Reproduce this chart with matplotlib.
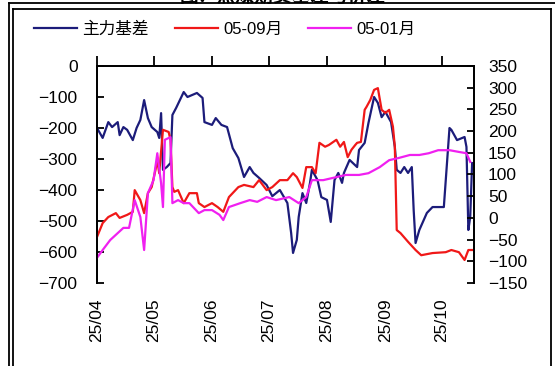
import matplotlib
matplotlib.use("Agg")
import matplotlib.pyplot as plt
import matplotlib.dates as mdates
from matplotlib.lines import Line2D
import pandas as pd

plt.rcParams['font.family'] = ['Liberation Sans', 'Noto Sans CJK SC', 'DejaVu Sans']
plt.rcParams['axes.unicode_minus'] = True

# 主力基差 (left axis)
basis_dates = [
    "2025-04-01", "2025-04-04", "2025-04-07", "2025-04-09", "2025-04-12", "2025-04-13",
    "2025-04-15", "2025-04-17", "2025-04-20", "2025-04-22", "2025-04-24", "2025-04-26",
    "2025-04-28", "2025-04-30", "2025-05-03", "2025-05-04", "2025-05-05", "2025-05-06",
    "2025-05-08", "2025-05-10", "2025-05-11", "2025-05-13", "2025-05-17", "2025-05-19",
    "2025-05-24", "2025-05-27", "2025-05-28", "2025-06-01", "2025-06-03", "2025-06-06",
    "2025-06-09", "2025-06-12", "2025-06-15", "2025-06-18", "2025-06-21", "2025-06-23",
    "2025-06-26", "2025-06-30", "2025-07-03", "2025-07-07", "2025-07-11", "2025-07-13",
    "2025-07-14", "2025-07-16", "2025-07-17", "2025-07-19", "2025-07-21", "2025-07-23",
    "2025-07-24", "2025-07-27", "2025-07-29", "2025-08-01", "2025-08-03", "2025-08-05",
    "2025-08-07", "2025-08-09", "2025-08-10", "2025-08-13", "2025-08-17", "2025-08-18",
    "2025-08-21", "2025-08-23", "2025-08-26", "2025-08-28", "2025-08-30", "2025-09-01",
    "2025-09-04", "2025-09-06", "2025-09-07", "2025-09-09", "2025-09-11", "2025-09-13",
    "2025-09-15", "2025-09-16", "2025-09-17", "2025-09-19", "2025-09-23", "2025-09-26",
    "2025-10-02", "2025-10-05", "2025-10-06", "2025-10-09", "2025-10-13", "2025-10-14",
    "2025-10-15", "2025-10-16", "2025-10-17",
]
basis_vals = [
    -200, -232, -181, -197, -181, -223,
    -197, -206, -239, -200, -174, -110,
    -168, -197, -213, -232, -152, -335,
    -326, -313, -158, -135, -84, -100,
    -87, -103, -181, -190, -168, -190,
    -197, -265, -297, -358, -326, -345,
    -361, -384, -420, -400, -442, -539,
    -603, -561, -487, -410, -442, -377,
    -335, -368, -423, -432, -503, -368,
    -345, -377, -345, -303, -326, -271,
    -248, -184, -100, -119, -165, -148,
    -181, -261, -335, -345, -326, -345,
    -326, -465, -571, -529, -474, -455,
    -455, -200, -206, -239, -229, -261,
    -529, -487, -313,
]

# 05-09月 spread (right axis)
s59_dates = [
    "2025-04-01", "2025-04-04", "2025-04-07", "2025-04-11", "2025-04-13", "2025-04-17",
    "2025-04-20", "2025-04-21", "2025-04-24", "2025-04-26", "2025-04-28", "2025-04-30",
    "2025-05-02", "2025-05-03", "2025-05-04", "2025-05-06", "2025-05-09", "2025-05-10",
    "2025-05-11", "2025-05-12", "2025-05-14", "2025-05-17", "2025-05-20", "2025-05-24",
    "2025-05-25", "2025-05-28", "2025-06-01", "2025-06-04", "2025-06-07", "2025-06-10",
    "2025-06-15", "2025-06-18", "2025-06-23", "2025-06-26", "2025-06-30", "2025-07-03",
    "2025-07-07", "2025-07-11", "2025-07-14", "2025-07-16", "2025-07-19", "2025-07-21",
    "2025-07-24", "2025-07-26", "2025-07-28", "2025-07-31", "2025-08-02", "2025-08-06",
    "2025-08-08", "2025-08-10", "2025-08-12", "2025-08-14", "2025-08-16", "2025-08-17",
    "2025-08-19", "2025-08-21", "2025-08-22", "2025-08-24", "2025-08-26", "2025-08-28",
    "2025-08-30", "2025-09-01", "2025-09-03", "2025-09-05", "2025-09-06", "2025-09-07",
    "2025-09-09", "2025-09-13", "2025-09-17", "2025-09-20", "2025-09-26", "2025-10-03",
    "2025-10-06", "2025-10-10", "2025-10-13", "2025-10-15", "2025-10-17",
]
s59_vals = [
    -44, -12, 2, 11, 0, 7,
    14, 64, 41, 11, 57, 71,
    110, 133, 103, 203, 198, 180,
    71, 60, 64, 34, 57, 57,
    34, 25, 34, 25, 14, 48,
    71, 76, 71, 87, 64, 71,
    87, 87, 103, 94, 69, 117,
    117, 103, 173, 164, 168, 180,
    164, 175, 140, 157, 168, 173,
    175, 249, 256, 272, 295, 299,
    249, 242, 249, 210, 164, -28,
    -35, -55, -74, -86, -81, -79,
    -74, -79, -97, -74, -74,
]

# 05-01月 spread (right axis)
s51_dates = [
    "2025-04-01", "2025-04-04", "2025-04-08", "2025-04-12", "2025-04-15", "2025-04-18",
    "2025-04-21", "2025-04-24", "2025-04-26", "2025-04-28", "2025-05-01", "2025-05-03",
    "2025-05-05", "2025-05-06", "2025-05-07", "2025-05-10", "2025-05-11", "2025-05-14",
    "2025-05-17", "2025-05-20", "2025-05-25", "2025-05-28", "2025-06-01", "2025-06-05",
    "2025-06-07", "2025-06-10", "2025-06-16", "2025-06-21", "2025-06-25", "2025-06-30",
    "2025-07-05", "2025-07-12", "2025-07-17", "2025-07-21", "2025-07-24", "2025-07-30",
    "2025-08-04", "2025-08-11", "2025-08-18", "2025-08-23", "2025-08-29", "2025-09-03",
    "2025-09-08", "2025-09-14", "2025-09-19", "2025-09-24", "2025-09-29", "2025-10-05",
    "2025-10-10", "2025-10-14", "2025-10-16",
]
s51_vals = [
    -92, -74, -51, -35, -23, -23,
    41, 2, -74, 57, 87, 149,
    80, 25, 180, 186, 34, 41,
    34, 34, 11, 18, 18, 7,
    -5, 25, 34, 41, 37, 48,
    41, 48, 34, 48, 87, 87,
    92, 99, 99, 103, 117, 133,
    138, 145, 145, 149, 156, 156,
    152, 149, 129,
]

series_names = ["主力基差", "05-09月", "05-01月"]
month_ticks = ["2025-04-01", "2025-05-01", "2025-06-01", "2025-07-01",
               "2025-08-01", "2025-09-01", "2025-10-01"]
title_text = "图：焦煤期货基差与价差"

W, H = 555, 366
fig = plt.figure(figsize=(W / 100, H / 100), dpi=100)
fig.patch.set_facecolor("white")

ax = fig.add_axes([97 / W, 1 - 283 / H, (474 - 97) / W, (283 - 66) / H])
ax2 = ax.twinx()

c_basis = "#1c1c7a"
c_59 = "#f01818"
c_51 = "#f020f0"

l1, = ax.plot(pd.to_datetime(basis_dates), basis_vals, color=c_basis, lw=1.6)
l2, = ax2.plot(pd.to_datetime(s59_dates), s59_vals, color=c_59, lw=1.6)
l3, = ax2.plot(pd.to_datetime(s51_dates), s51_vals, color=c_51, lw=1.6)

ax.set_ylim(-700, 0)
ax.set_yticks(range(-700, 1, 100))
ax2.set_ylim(-150, 350)
ax2.set_yticks(range(-150, 351, 50))

ax.set_xlim(pd.Timestamp("2025-04-01"), pd.Timestamp("2025-10-18"))
ax.set_xticks(pd.to_datetime(month_ticks))
ax.xaxis.set_major_formatter(mdates.DateFormatter("%y/%m"))

fs = 12.5
for a in (ax, ax2):
    for s in ("left", "right", "top", "bottom"):
        a.spines[s].set_color("#000000")
        a.spines[s].set_linewidth(1.3)
    a.spines["bottom"].set_visible(False)
    a.set_facecolor("none")

ax.tick_params(axis="y", direction="in", length=5, width=1.3, pad=14, labelsize=fs)
ax2.tick_params(axis="y", direction="in", length=5, width=1.3, pad=10, labelsize=fs)
ax.tick_params(axis="x", which="both", top=True, bottom=False, labeltop=False,
               labelbottom=True, direction="out", length=7, width=1.3,
               pad=4, labelsize=fs, labelrotation=90)
for lab in ax.get_xticklabels():
    lab.set_verticalalignment("top")

fig.legend([l1, l2, l3], series_names, loc="center left", ncol=3,
           bbox_to_anchor=(34 / W, 1 - 29 / H), frameon=False, fontsize=12,
           handlelength=2.6, handletextpad=0.3, columnspacing=1.55,
           borderaxespad=0, borderpad=0)

# double frame around the chart
for (x0, y0, x1) in ((9, 3, 556), (13, 9, 551)):
    fig.add_artist(Line2D([x0 / W, x0 / W], [1 - y0 / H, -0.01], color="black",
                          lw=1.3, transform=fig.transFigure))
    fig.add_artist(Line2D([x0 / W, x1 / W], [1 - y0 / H, 1 - y0 / H], color="black",
                          lw=1.3, transform=fig.transFigure))
fig.add_artist(Line2D([551 / W, 551 / W], [1 - 9 / H, -0.01], color="black",
                      lw=1.3, transform=fig.transFigure))

# chart caption, mostly above the top edge of the canvas
fig.text(283 / W, 1 - 2 / H, title_text, ha="center", va="baseline", fontsize=13.5,
         fontweight="bold")

fig.savefig("out.png", dpi=100)
